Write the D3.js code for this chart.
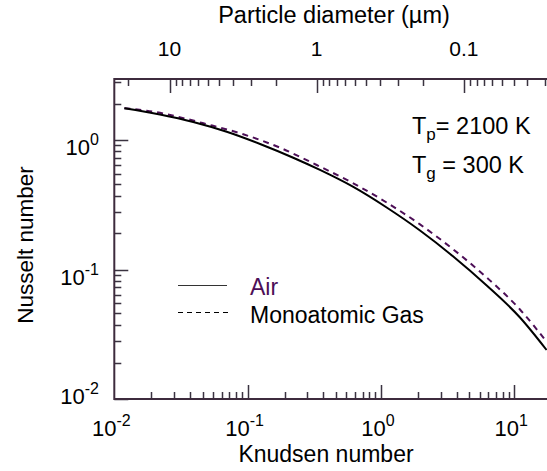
<!DOCTYPE html>
<html>
<head>
<meta charset="utf-8">
<script src="https://cdn.jsdelivr.net/npm/d3@7"></script>
<style>
  body { margin: 0; background: #fff; }
  svg { display: block; font-family: "Liberation Sans", Arial, Helvetica, sans-serif; }
</style>
</head>
<body>
<svg id="chart" width="547" height="471"></svg>
<script>
// values: Knudsen number -> Nusselt number
var airKn = [0.0119, 0.0220, 0.0391, 0.0697, 0.124, 0.220, 0.349, 0.621, 1.105, 1.965, 3.49, 6.22, 11.05, 17.5];
var airNu = [1.757, 1.573, 1.377, 1.157, 0.931, 0.729, 0.587, 0.434, 0.301, 0.200, 0.126, 0.0752, 0.0426, 0.0239];
var gasKn = [0.0119, 0.0175, 0.0522, 0.0928, 0.175, 0.330, 0.621, 1.105, 1.965, 3.49, 6.22, 11.05, 17.5];
var gasNu = [1.757, 1.684, 1.306, 1.107, 0.872, 0.641, 0.463, 0.329, 0.223, 0.143, 0.0867, 0.0491, 0.0277];

var knTicks = [0.01, 0.1, 1, 10];
var nuTicks = [0.01, 0.1, 1];
var diamTicks = [10, 1, 0.1];
var diamLabels = ["10", "1", "0.1"];
var seriesNames = ["Air", "Monoatomic Gas"];

var svg = d3.select("#chart");
var frameColor = "#3d2b3d";
var purple = "#4d0f57";

var x = d3.scaleLog().domain([0.01, 10]).range([114.3, 514.2]);
var y = d3.scaleLog().domain([0.01, 1]).range([399, 140]);
var xTop = d3.scaleLog().domain([10, 0.1]).range([169.5, 463.9]);

var pLeft = 114.3, pRight = 547, pTop = 79, pBottom = 399;

// minor ticks sit at 1.9, 2.8, ... 9.1 of each decade, like the original
function minors(decades) {
  var out = [];
  decades.forEach(function(b) {
    for (var k = 1; k <= 9; k++) out.push(b * (1 + 0.9 * k));
  });
  return out;
}

svg.append("defs").append("clipPath").attr("id", "plotclip")
  .append("rect").attr("x", pLeft).attr("y", pTop)
  .attr("width", pRight - pLeft).attr("height", pBottom - pTop);

// ticks, pointing inside the frame
var tickD = "";
function xTicks(scale, vals, yBase, len) {
  vals.forEach(function(v) {
    var px = Math.round(scale(v)) + 0.5;
    if (px > pLeft + 1 && px < pRight) {
      tickD += "M" + px + "," + yBase + "V" + (yBase + len);
    }
  });
}
function yTicks(vals, len) {
  vals.forEach(function(v) {
    var py = Math.round(y(v)) + 0.5;
    if (py > pTop + 1) {
      tickD += "M" + pLeft + "," + py + "H" + (pLeft + len);
    }
  });
}
xTicks(x, knTicks, pBottom, -14);
xTicks(x, minors([0.01, 0.1, 1, 10]), pBottom, -7);
xTicks(xTop, diamTicks, pTop, 14);
xTicks(xTop, minors([0.01, 0.1, 1, 10]), pTop, 7);
yTicks(nuTicks, 14);
yTicks(minors([0.01, 0.1, 1]), 7);
svg.append("path").attr("d", tickD)
  .attr("fill", "none").attr("stroke", "#3a3340").attr("stroke-width", 1.5);

// frame (no right side, it is cut off)
svg.append("path")
  .attr("d", "M" + pRight + "," + pTop + "H" + pLeft + "V" + pBottom + "H" + pRight)
  .attr("fill", "none").attr("stroke", frameColor).attr("stroke-width", 2);

// curves
var line = d3.line()
  .x(function(d) { return x(d[0]); })
  .y(function(d) { return y(d[1]); })
  .curve(d3.curveMonotoneX);

var plot = svg.append("g").attr("clip-path", "url(#plotclip)");
plot.append("path")
  .datum(gasKn.map(function(k, i) { return [k, gasNu[i]]; }))
  .attr("d", line).attr("fill", "none")
  .attr("stroke", purple).attr("stroke-width", 2).attr("stroke-dasharray", "6,5");
plot.append("path")
  .datum(airKn.map(function(k, i) { return [k, airNu[i]]; }))
  .attr("d", line).attr("fill", "none")
  .attr("stroke", "#000").attr("stroke-width", 2);

// power-of-ten labels
function powLabel(g, exp) {
  g.append("tspan").text("10");
  g.append("tspan").attr("dy", -10).attr("font-size", 16).text(exp);
}

knTicks.forEach(function(v) {
  var t = svg.append("text").attr("x", x(v) - 3).attr("y", 436)
    .attr("text-anchor", "middle").attr("font-size", 22).attr("fill", "#000");
  powLabel(t, String(Math.round(Math.log10(v))));
});

nuTicks.forEach(function(v) {
  var t = svg.append("text").attr("x", 99).attr("y", Math.min(y(v) + 15, 404))
    .attr("text-anchor", "end").attr("font-size", 22).attr("fill", "#000");
  powLabel(t, String(Math.round(Math.log10(v))));
});

diamTicks.forEach(function(v, i) {
  svg.append("text").attr("x", xTop(v)).attr("y", 56)
    .attr("text-anchor", "middle").attr("font-size", 21).attr("fill", "#000")
    .text(diamLabels[i]);
});

// axis titles
svg.append("text").attr("x", 334).attr("y", 23).attr("text-anchor", "middle")
  .attr("font-size", 23.5).text("Particle diameter (\u00b5m)");
svg.append("text").attr("x", 326).attr("y", 462).attr("text-anchor", "middle")
  .attr("font-size", 23).text("Knudsen number");
svg.append("text").attr("transform", "translate(33,245) rotate(-90)")
  .attr("text-anchor", "middle").attr("font-size", 22.5).text("Nusselt number");

// temperatures
var tp = svg.append("text").attr("x", 412).attr("y", 134).attr("font-size", 23.5);
tp.append("tspan").text("T");
tp.append("tspan").attr("dy", 6).attr("font-size", 17).text("p");
tp.append("tspan").attr("dy", -6).text("= 2100 K");
var tg = svg.append("text").attr("x", 412).attr("y", 173).attr("font-size", 23.5);
tg.append("tspan").text("T");
tg.append("tspan").attr("dy", 6).attr("font-size", 17).text("g");
tg.append("tspan").attr("dy", -6).text(" = 300 K");

// legend
var legend = svg.append("g");
legend.append("line").attr("x1", 178).attr("x2", 227).attr("y1", 285.5).attr("y2", 285.5)
  .attr("stroke", "#333").attr("stroke-width", 1);
legend.append("line").attr("x1", 178).attr("x2", 229).attr("y1", 312.5).attr("y2", 312.5)
  .attr("stroke", "#000").attr("stroke-width", 1).attr("stroke-dasharray", "5,4");
legend.append("text").attr("x", 250).attr("y", 295).attr("font-size", 23)
  .attr("fill", purple).text(seriesNames[0]);
legend.append("text").attr("x", 250).attr("y", 323).attr("font-size", 23)
  .attr("fill", "#000").text(seriesNames[1]);
</script>
</body>
</html>
